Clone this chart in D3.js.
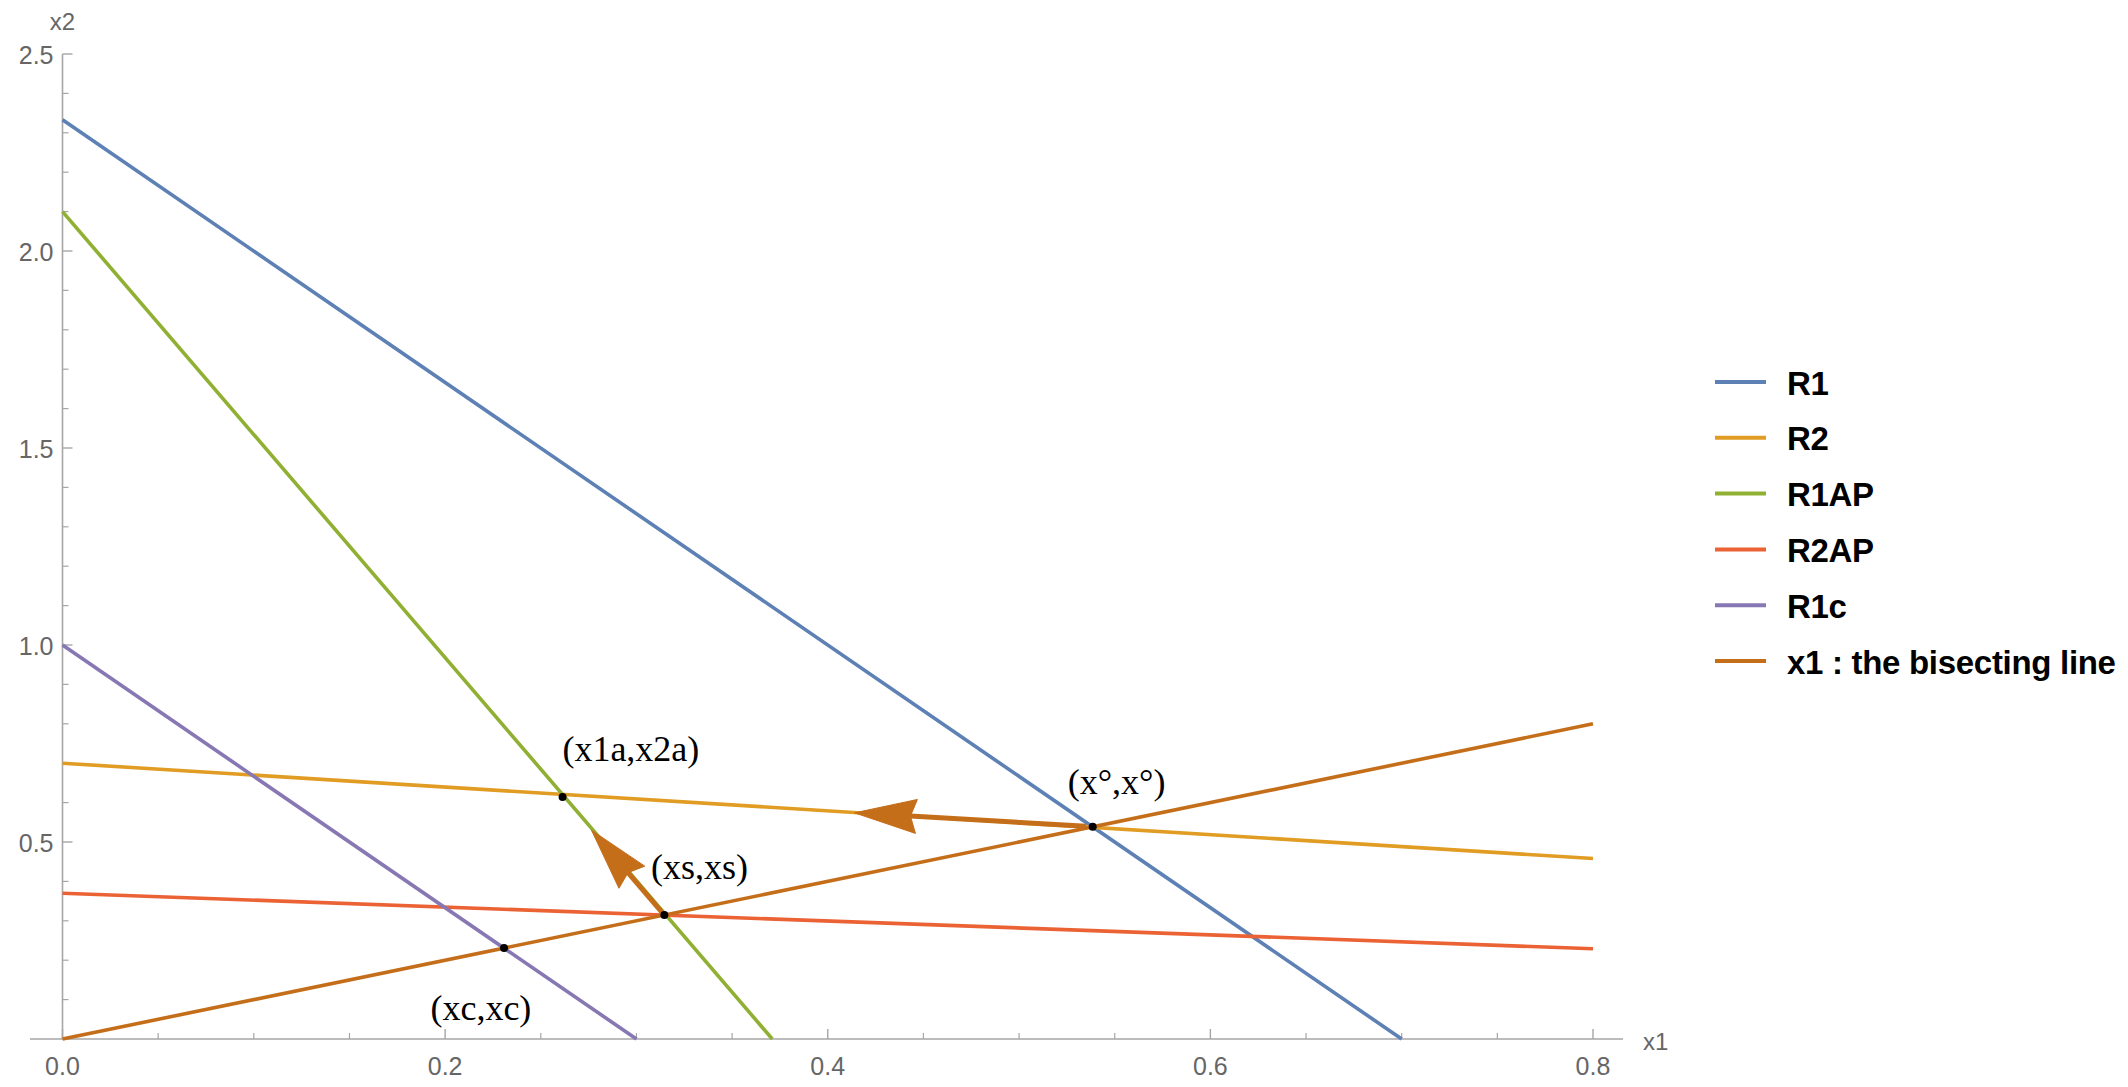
<!DOCTYPE html>
<html>
<head>
<meta charset="utf-8">
<script src="https://cdn.jsdelivr.net/npm/d3@7"></script>
<style>
  html, body { margin: 0; padding: 0; background: #fff; overflow: hidden; }
  svg { display: block; }
</style>
</head>
<body>
<svg id="chart" width="2128" height="1087"></svg>
<script>
// ---------------- data ----------------
const seriesNames = ["R1", "R2", "R1AP", "R2AP", "R1c", "x1 : the bisecting line"];
const seriesColors = ["#5e81b5", "#e19c24", "#8fb032", "#eb6235", "#8778b3", "#c56e1a"];
// each line read as its two end points [x1, x2]
const lineR1   = [[0, 2.333], [0.70, 0]];
const lineR2   = [[0, 0.70], [0.80, 0.458]];
const lineR1AP = [[0, 2.10], [0.371, 0]];
const lineR2AP = [[0, 0.37], [0.80, 0.229]];
const lineR1c  = [[0, 1.00], [0.30, 0]];
const lineBis  = [[0, 0], [0.80, 0.80]];
const seriesLines = [lineR1, lineR2, lineR1AP, lineR2AP, lineR1c, lineBis];

// marked points
const pointXY = [[0.2614, 0.614], [0.5385, 0.5385], [0.3146, 0.3146], [0.2308, 0.2308]];
const pointLabels = ["(x1a,x2a)", "(x\u00B0,x\u00B0)", "(xs,xs)", "(xc,xc)"];
const labelXY = [[0.2971, 0.736], [0.551, 0.652], [0.333, 0.437], [0.2187, 0.0787]];

// arrows [from, to]
const arrows = [
  [[0.3146, 0.3146], [0.2765, 0.530]],
  [[0.535, 0.540], [0.414, 0.574]]
];

const xMajorTicks = [0, 0.2, 0.4, 0.6, 0.8];
const xTickLabels = ["0.0", "0.2", "0.4", "0.6", "0.8"];
const yMajorTicks = [0.5, 1.0, 1.5, 2.0, 2.5];
const yTickLabels = ["0.5", "1.0", "1.5", "2.0", "2.5"];
const xMinorTicks = d3.range(0, 17).map(i => i * 0.05).filter(v => !xMajorTicks.some(m => Math.abs(m - v) < 1e-9));
const yMinorTicks = d3.range(1, 26).map(i => i * 0.1).filter(v => !yMajorTicks.some(m => Math.abs(m - v) < 1e-9));

// ---------------- layout ----------------
const svg = d3.select("#chart");
const x = d3.scaleLinear().domain([0, 0.8]).range([62.5, 1593]);
const y = d3.scaleLinear().domain([0, 2.5]).range([1039, 54]);

const axisColor = "#a6a6a6";
const tickTextColor = "#666666";
const sansFont = "'Liberation Sans', Arial, Helvetica, sans-serif";
const serifFont = "'Liberation Serif', 'Times New Roman', serif";

// axes lines
const gAxes = svg.append("g");
gAxes.append("line").attr("x1", 30).attr("x2", 1623).attr("y1", y(0)).attr("y2", y(0))
  .attr("stroke", axisColor).attr("stroke-width", 1.6);
gAxes.append("line").attr("x1", x(0)).attr("x2", x(0)).attr("y1", y(2.5)).attr("y2", y(0))
  .attr("stroke", axisColor).attr("stroke-width", 1.6);

// x ticks (inward, upward)
gAxes.selectAll(".xmaj").data(xMajorTicks).enter().append("line")
  .attr("x1", d => x(d)).attr("x2", d => x(d)).attr("y1", y(0)).attr("y2", y(0) - 10)
  .attr("stroke", axisColor).attr("stroke-width", 1.4);
gAxes.selectAll(".xmin").data(xMinorTicks).enter().append("line")
  .attr("x1", d => x(d)).attr("x2", d => x(d)).attr("y1", y(0)).attr("y2", y(0) - 6)
  .attr("stroke", axisColor).attr("stroke-width", 1.2);
// y ticks (inward, rightward)
gAxes.selectAll(".ymaj").data(yMajorTicks).enter().append("line")
  .attr("x1", x(0)).attr("x2", x(0) + 10).attr("y1", d => y(d)).attr("y2", d => y(d))
  .attr("stroke", axisColor).attr("stroke-width", 1.4);
gAxes.selectAll(".ymin").data(yMinorTicks).enter().append("line")
  .attr("x1", x(0)).attr("x2", x(0) + 6).attr("y1", d => y(d)).attr("y2", d => y(d))
  .attr("stroke", axisColor).attr("stroke-width", 1.2);

// tick labels
gAxes.selectAll(".xlab").data(xMajorTicks).enter().append("text")
  .attr("x", d => x(d)).attr("y", y(0) + 27)
  .attr("text-anchor", "middle").attr("dominant-baseline", "central")
  .attr("font-family", sansFont).attr("font-size", 25).attr("fill", tickTextColor)
  .text((d, i) => xTickLabels[i]);
gAxes.selectAll(".ylab").data(yMajorTicks).enter().append("text")
  .attr("x", x(0) - 9).attr("y", d => y(d) + 1)
  .attr("text-anchor", "end").attr("dominant-baseline", "central")
  .attr("font-family", sansFont).attr("font-size", 25).attr("fill", tickTextColor)
  .text((d, i) => yTickLabels[i]);

// axis titles
gAxes.append("text").attr("x", 1643).attr("y", y(0) + 2)
  .attr("dominant-baseline", "central")
  .attr("font-family", sansFont).attr("font-size", 24).attr("fill", tickTextColor).text("x1");
gAxes.append("text").attr("x", 75).attr("y", 30)
  .attr("text-anchor", "end")
  .attr("font-family", sansFont).attr("font-size", 24).attr("fill", tickTextColor).text("x2");

// series lines
const lineGen = d3.line().x(d => x(d[0])).y(d => y(d[1]));
const gLines = svg.append("g");
seriesLines.forEach((pts, i) => {
  gLines.append("path").attr("d", lineGen(pts))
    .attr("fill", "none").attr("stroke", seriesColors[i])
    .attr("stroke-width", 3.6).attr("stroke-linecap", "butt");
});

// arrows
const arrowColor = "#c56e1a";
const gArrows = svg.append("g");
const headLen = 62, headHalf = 17, notch = 6;
arrows.forEach(a => {
  const x0 = x(a[0][0]), y0 = y(a[0][1]);
  const x1 = x(a[1][0]), y1 = y(a[1][1]);
  const dx = x1 - x0, dy = y1 - y0, L = Math.hypot(dx, dy);
  const ux = dx / L, uy = dy / L, px = -uy, py = ux;
  const bx = x1 - ux * headLen, by = y1 - uy * headLen;
  const nx = x1 - ux * (headLen - notch), ny = y1 - uy * (headLen - notch);
  gArrows.append("line").attr("x1", x0).attr("y1", y0).attr("x2", nx).attr("y2", ny)
    .attr("stroke", arrowColor).attr("stroke-width", 5);
  const head = [[x1, y1], [bx + px * headHalf, by + py * headHalf], [nx, ny], [bx - px * headHalf, by - py * headHalf]];
  gArrows.append("path").attr("d", "M" + head.map(p => p.join(",")).join("L") + "Z")
    .attr("fill", arrowColor).attr("stroke", arrowColor).attr("stroke-width", 1);
});

// points
svg.append("g").selectAll("circle").data(pointXY).enter().append("circle")
  .attr("cx", d => x(d[0])).attr("cy", d => y(d[1])).attr("r", 4).attr("fill", "#000");

// point labels
svg.append("g").selectAll("text").data(labelXY).enter().append("text")
  .attr("x", d => x(d[0])).attr("y", d => y(d[1]))
  .attr("text-anchor", "middle").attr("dominant-baseline", "central")
  .attr("font-family", serifFont).attr("font-size", 36).attr("fill", "#000")
  .text((d, i) => pointLabels[i]);

// legend
const gLeg = svg.append("g");
const legY0 = 382, legDy = 55.8;
seriesNames.forEach((name, i) => {
  const yy = legY0 + i * legDy;
  gLeg.append("line").attr("x1", 1715).attr("x2", 1766).attr("y1", yy).attr("y2", yy)
    .attr("stroke", seriesColors[i]).attr("stroke-width", 4);
  gLeg.append("text").attr("x", 1787).attr("y", yy + 1)
    .attr("dominant-baseline", "central")
    .attr("font-family", sansFont).attr("font-weight", "bold").attr("font-size", 33)
    .attr("letter-spacing", -0.3)
    .attr("fill", "#000").text(name);
});
</script>
</body>
</html>
